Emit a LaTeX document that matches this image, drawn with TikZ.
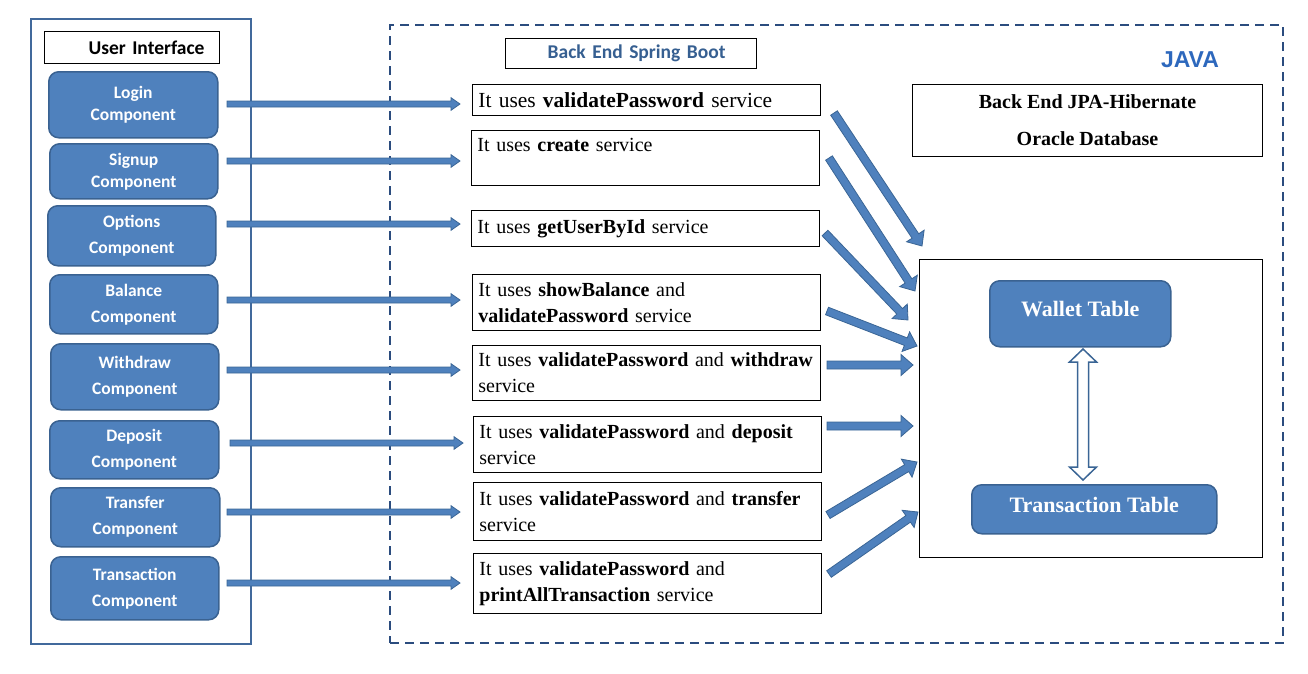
\documentclass[tikz,border=0pt]{standalone}
\usepackage{fontspec}
\setmainfont{Liberation Serif}
\newfontfamily\carlito{Carlito}
\newfontfamily\arialf{Liberation Sans}
\usetikzlibrary{calc}
\definecolor{compblue}{HTML}{4F81BD}
\definecolor{compborder}{HTML}{3A6291}
\definecolor{arrowdraw}{HTML}{3A6595}
\definecolor{uiframe}{HTML}{41699C}
\definecolor{dashblue}{HTML}{2B4C7E}
\definecolor{springblue}{HTML}{365F91}
\definecolor{javablue}{HTML}{2D68BD}
\tikzset{
  comp/.style={rectangle, rounded corners=10pt, fill=compblue, draw=compborder, line width=1.5pt,
    text=white, align=center, anchor=north west, inner sep=0pt},
  svc/.style={rectangle, draw=black, line width=0.9pt, anchor=north west, inner xsep=6pt, inner ysep=0pt,
    text width=336pt, align=left, font=\fontsize{20}{26}\selectfont},
  tbl/.style={rectangle, rounded corners=10pt, fill=compblue, draw=compborder, line width=1.5pt,
    text=white, anchor=north west, inner sep=0pt, font=\bfseries\fontsize{22}{26}\selectfont},
  blockarrow/.style n args={3}{to path={
    let \p1=(\tikztostart), \p2=(\tikztotarget),
        \n1={atan2(\y2-\y1,\x2-\x1)}, \n2={veclen(\x2-\x1,\y2-\y1)-#3} in
    ({\x1-#1*sin(\n1)},{\y1+#1*cos(\n1)})
    -- ({\x1+\n2*cos(\n1)-#1*sin(\n1)},{\y1+\n2*sin(\n1)+#1*cos(\n1)})
    -- ({\x1+\n2*cos(\n1)-#2*sin(\n1)},{\y1+\n2*sin(\n1)+#2*cos(\n1)})
    -- (\p2)
    -- ({\x1+\n2*cos(\n1)+#2*sin(\n1)},{\y1+\n2*sin(\n1)-#2*cos(\n1)})
    -- ({\x1+\n2*cos(\n1)+#1*sin(\n1)},{\y1+\n2*sin(\n1)-#1*cos(\n1)})
    -- ({\x1+#1*sin(\n1)},{\y1-#1*cos(\n1)}) -- cycle}},
  dblarrow/.style n args={3}{to path={
    let \p1=(\tikztostart), \p2=(\tikztotarget),
        \n1={atan2(\y2-\y1,\x2-\x1)}, \n2={veclen(\x2-\x1,\y2-\y1)-#3} in
    (\p1)
    -- ({\x1+#3*cos(\n1)-#2*sin(\n1)},{\y1+#3*sin(\n1)+#2*cos(\n1)})
    -- ({\x1+#3*cos(\n1)-#1*sin(\n1)},{\y1+#3*sin(\n1)+#1*cos(\n1)})
    -- ({\x1+\n2*cos(\n1)-#1*sin(\n1)},{\y1+\n2*sin(\n1)+#1*cos(\n1)})
    -- ({\x1+\n2*cos(\n1)-#2*sin(\n1)},{\y1+\n2*sin(\n1)+#2*cos(\n1)})
    -- (\p2)
    -- ({\x1+\n2*cos(\n1)+#2*sin(\n1)},{\y1+\n2*sin(\n1)-#2*cos(\n1)})
    -- ({\x1+\n2*cos(\n1)+#1*sin(\n1)},{\y1+\n2*sin(\n1)-#1*cos(\n1)})
    -- ({\x1+#3*cos(\n1)+#1*sin(\n1)},{\y1+#3*sin(\n1)-#1*cos(\n1)})
    -- ({\x1+#3*cos(\n1)+#2*sin(\n1)},{\y1+#3*sin(\n1)-#2*cos(\n1)})
    -- cycle}},
  harrow/.style={fill=compblue, draw=arrowdraw, line width=0.8pt, blockarrow={3}{6.3}{9}},
  darrow/.style={fill=compblue, draw=arrowdraw, line width=0.8pt, blockarrow={4}{10.5}{12}},
  wide/.style={fill=white, draw=arrowdraw, line width=1.5pt, dblarrow={5.5}{13.5}{13}}
}
\begin{document}
\begin{tikzpicture}[x=1pt,y=-1pt]
\useasboundingbox (0,0) rectangle (1308,673);
% frames
\node[rectangle, draw=uiframe, line width=2pt, anchor=north west, minimum width=220pt, minimum height=625pt, inner sep=0pt] (ui) at (30,18) {};
\node[rectangle, draw=dashblue, line width=2pt, dash pattern=on 9pt off 6pt, anchor=north west, minimum width=893pt, minimum height=618pt, inner sep=0pt] (be) at (389,24) {};
% titles
\node[rectangle, draw=black, line width=1pt, anchor=north west, minimum height=32pt, inner xsep=15pt, inner ysep=0pt, text width=145pt, align=right, font=\carlito\bfseries\fontsize{19.5}{22}\selectfont] (uit) at (44,31) {User Interface};
\node[rectangle, draw=black, line width=1pt, anchor=north west, minimum height=30pt, inner xsep=31pt, inner ysep=0pt, text width=189pt, align=right, text=springblue, font=\carlito\bfseries\fontsize{19.5}{22}\selectfont] (sbt) at (505,38) {Back End Spring Boot};
\node[font=\arialf\bfseries\fontsize{23}{26}\selectfont, text=javablue] (java) at (1190,60) {JAVA};
% components
\node[comp, minimum width=169pt, minimum height=66pt, font=\carlito\bfseries\fontsize{17.5}{22}\selectfont] (login) at (48,71) {Login\\Component};
\node[comp, minimum width=168pt, minimum height=55pt, font=\carlito\bfseries\fontsize{17.5}{22}\selectfont] (signup) at (49,143) {Signup\\Component};
\node[comp, minimum width=168pt, minimum height=60pt, font=\carlito\bfseries\fontsize{17.5}{26}\selectfont] (options) at (47,205) {Options\\Component};
\node[comp, minimum width=168pt, minimum height=59pt, font=\carlito\bfseries\fontsize{17.5}{26}\selectfont] (balance) at (49,274) {Balance\\Component};
\node[comp, minimum width=168pt, minimum height=66pt, font=\carlito\bfseries\fontsize{17.5}{26}\selectfont] (withdraw) at (50,343) {Withdraw\\Component};
\node[comp, minimum width=169pt, minimum height=58pt, font=\carlito\bfseries\fontsize{17.5}{26}\selectfont] (deposit) at (49,420) {Deposit\\Component};
\node[comp, minimum width=169pt, minimum height=59pt, font=\carlito\bfseries\fontsize{17.5}{26}\selectfont] (transfer) at (50,487) {Transfer\\Component};
\node[comp, minimum width=168pt, minimum height=63pt, font=\carlito\bfseries\fontsize{17.5}{26}\selectfont] (transaction) at (50,556) {Transaction\\Component};
% services
\node[svc, minimum height=31pt, font=\fontsize{21.5}{26}\selectfont] (s1) at (472,84) {It uses \textbf{validatePassword} service};
\node[svc, minimum height=55pt] (s2) at (471,130) {It uses \textbf{create} service\\\mbox{}};
\node[svc, minimum height=36pt] (s3) at (471,210) {It uses \textbf{getUserById} service};
\node[svc, minimum height=56pt] (s4) at (472,274) {It uses \textbf{showBalance} and\\\textbf{validatePassword} service};
\node[svc, minimum height=55pt] (s5) at (472,345) {\mbox{It uses \textbf{validatePassword} and \textbf{withdraw}}\\service};
\node[svc, minimum height=56pt] (s6) at (473,416) {It uses \textbf{validatePassword} and \textbf{deposit}\\service};
\node[svc, minimum height=58pt] (s7) at (473,482) {It uses \textbf{validatePassword} and \textbf{transfer}\\service};
\node[svc, minimum height=60pt] (s8) at (473,553) {It uses \textbf{validatePassword} and\\\textbf{printAllTransaction} service};
% database side
\node[rectangle, draw=black, line width=1pt, anchor=north west, minimum width=350pt, minimum height=72pt, inner sep=0pt, align=center, font=\bfseries\fontsize{20}{37}\selectfont] (jpa) at (912,84) {Back End JPA-Hibernate\\Oracle Database};
\node[rectangle, draw=black, line width=1pt, anchor=north west, minimum width=343pt, minimum height=298pt, inner sep=0pt] (db) at (919,259) {};
\node[tbl, minimum width=181pt, minimum height=66pt, text height=15pt, text depth=10pt] (wallet) at (989,280) {Wallet Table};
\node[tbl, minimum width=245pt, minimum height=49pt, text height=15pt, text depth=8pt] (ttable) at (971,484) {Transaction Table};
% arrow end points
\coordinate (a1s) at (227,104); \coordinate (a1e) at (460,104);
\coordinate (a2s) at (227,161); \coordinate (a2e) at (460,161);
\coordinate (a3s) at (227,224); \coordinate (a3e) at (460,224);
\coordinate (a4s) at (227,300); \coordinate (a4e) at (460,300);
\coordinate (a5s) at (227,370); \coordinate (a5e) at (460,370);
\coordinate (a6s) at (230,443); \coordinate (a6e) at (463,443);
\coordinate (a7s) at (227,512); \coordinate (a7e) at (460,512);
\coordinate (a8s) at (227,583); \coordinate (a8e) at (460,583);
\coordinate (d1s) at (834,113); \coordinate (d1e) at (922,246);
\coordinate (d2s) at (829,158); \coordinate (d2e) at (915,291);
\coordinate (d3s) at (825,233); \coordinate (d3e) at (908,320);
\coordinate (d4s) at (827,311); \coordinate (d4e) at (917,346);
\coordinate (d5s) at (827,365); \coordinate (d5e) at (913,365);
\coordinate (d6s) at (827,426); \coordinate (d6e) at (913,426);
\coordinate (d7s) at (828,515); \coordinate (d7e) at (917,462);
\coordinate (d8s) at (829,574); \coordinate (d8e) at (918,512);
\coordinate (w1) at (1083,349); \coordinate (w2) at (1083,480);
% arrows
\foreach \i in {1,...,8} {\draw[harrow] (a\i s) to (a\i e);}
\foreach \i in {1,...,8} {\draw[darrow] (d\i s) to (d\i e);}
\draw[wide] (w1) to (w2);
\end{tikzpicture}
\end{document}
